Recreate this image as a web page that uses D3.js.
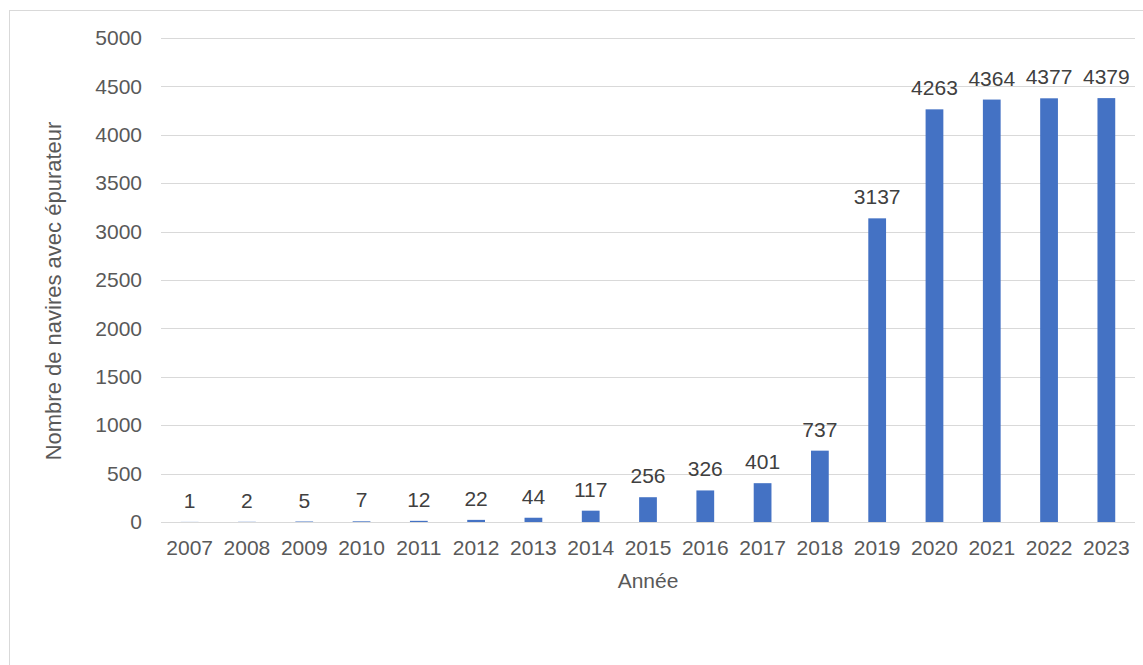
<!DOCTYPE html>
<html>
<head>
<meta charset="utf-8">
<script src="https://cdn.jsdelivr.net/npm/d3@7"></script>
<style>
  body { margin: 0; background: #fff; }
  text { font-family: "Liberation Sans", Arial, sans-serif; }
</style>
</head>
<body>
<div id="chart"></div>
<script>
// data
var years = ["2007","2008","2009","2010","2011","2012","2013","2014","2015","2016","2017","2018","2019","2020","2021","2022","2023"];
var ships = [1, 2, 5, 7, 12, 22, 44, 117, 256, 326, 401, 737, 3137, 4263, 4364, 4377, 4379];
var yTicks = [0, 500, 1000, 1500, 2000, 2500, 3000, 3500, 4000, 4500, 5000];

var W = 1143, H = 665;
var margin = {top: 38, right: 8, bottom: 143, left: 161},
    width = W - margin.left - margin.right,
    height = H - margin.top - margin.bottom;

var svg = d3.select("#chart").append("svg")
    .attr("width", W)
    .attr("height", H);

// outer chart border
svg.append("rect")
    .attr("x", 9.5).attr("y", 10.5)
    .attr("width", 1200).attr("height", 700)
    .attr("fill", "none")
    .attr("stroke", "#d9d9d9");

var g = svg.append("g")
    .attr("transform", "translate(" + margin.left + "," + margin.top + ")");

var x = d3.scaleBand()
    .domain(years)
    .range([0, width])
    .paddingInner(0.69)
    .paddingOuter(0.345);

var y = d3.scaleLinear()
    .domain([0, 5000])
    .range([height, 0]);

// gridlines
g.append("g")
    .selectAll("line")
    .data(yTicks)
    .enter().append("line")
    .attr("x1", 0).attr("x2", width)
    .attr("y1", function(d){ return Math.round(y(d)) + 0.5; })
    .attr("y2", function(d){ return Math.round(y(d)) + 0.5; })
    .attr("stroke", "#d9d9d9")
    .attr("stroke-width", 1);

// y axis labels
var yAxis = g.append("g")
    .call(d3.axisLeft(y).tickValues(yTicks).tickFormat(d3.format("d")).tickSize(0).tickPadding(19));
yAxis.select(".domain").remove();
yAxis.selectAll("text")
    .attr("fill", "#595959")
    .style("font-size", "21px");

// x axis labels
var xAxis = g.append("g")
    .attr("transform", "translate(0," + height + ")")
    .call(d3.axisBottom(x).tickSize(0).tickPadding(18));
xAxis.select(".domain").remove();
xAxis.selectAll("text")
    .attr("fill", "#595959")
    .style("font-size", "21px");

// bars
g.selectAll(".bar")
    .data(ships)
    .enter().append("rect")
    .attr("class", "bar")
    .attr("x", function(d, i){ return x(years[i]); })
    .attr("width", x.bandwidth())
    .attr("y", function(d){ return y(d); })
    .attr("height", function(d){ return height - y(d); })
    .attr("fill", "#4472c4");

// value labels
g.selectAll(".lbl")
    .data(ships)
    .enter().append("text")
    .attr("class", "lbl")
    .attr("x", function(d, i){ return x(years[i]) + x.bandwidth() / 2; })
    .attr("y", function(d){ return y(d) - 14; })
    .attr("text-anchor", "middle")
    .attr("fill", "#404040")
    .style("font-size", "21px")
    .text(function(d){ return d; });

// axis titles
svg.append("text")
    .attr("x", margin.left + width / 2)
    .attr("y", 588)
    .attr("text-anchor", "middle")
    .attr("fill", "#595959")
    .style("font-size", "21px")
    .text("Année");

svg.append("text")
    .attr("transform", "translate(61,291) rotate(-90)")
    .attr("text-anchor", "middle")
    .attr("fill", "#595959")
    .style("font-size", "22px")
    .text("Nombre de navires avec épurateur");
</script>
</body>
</html>
